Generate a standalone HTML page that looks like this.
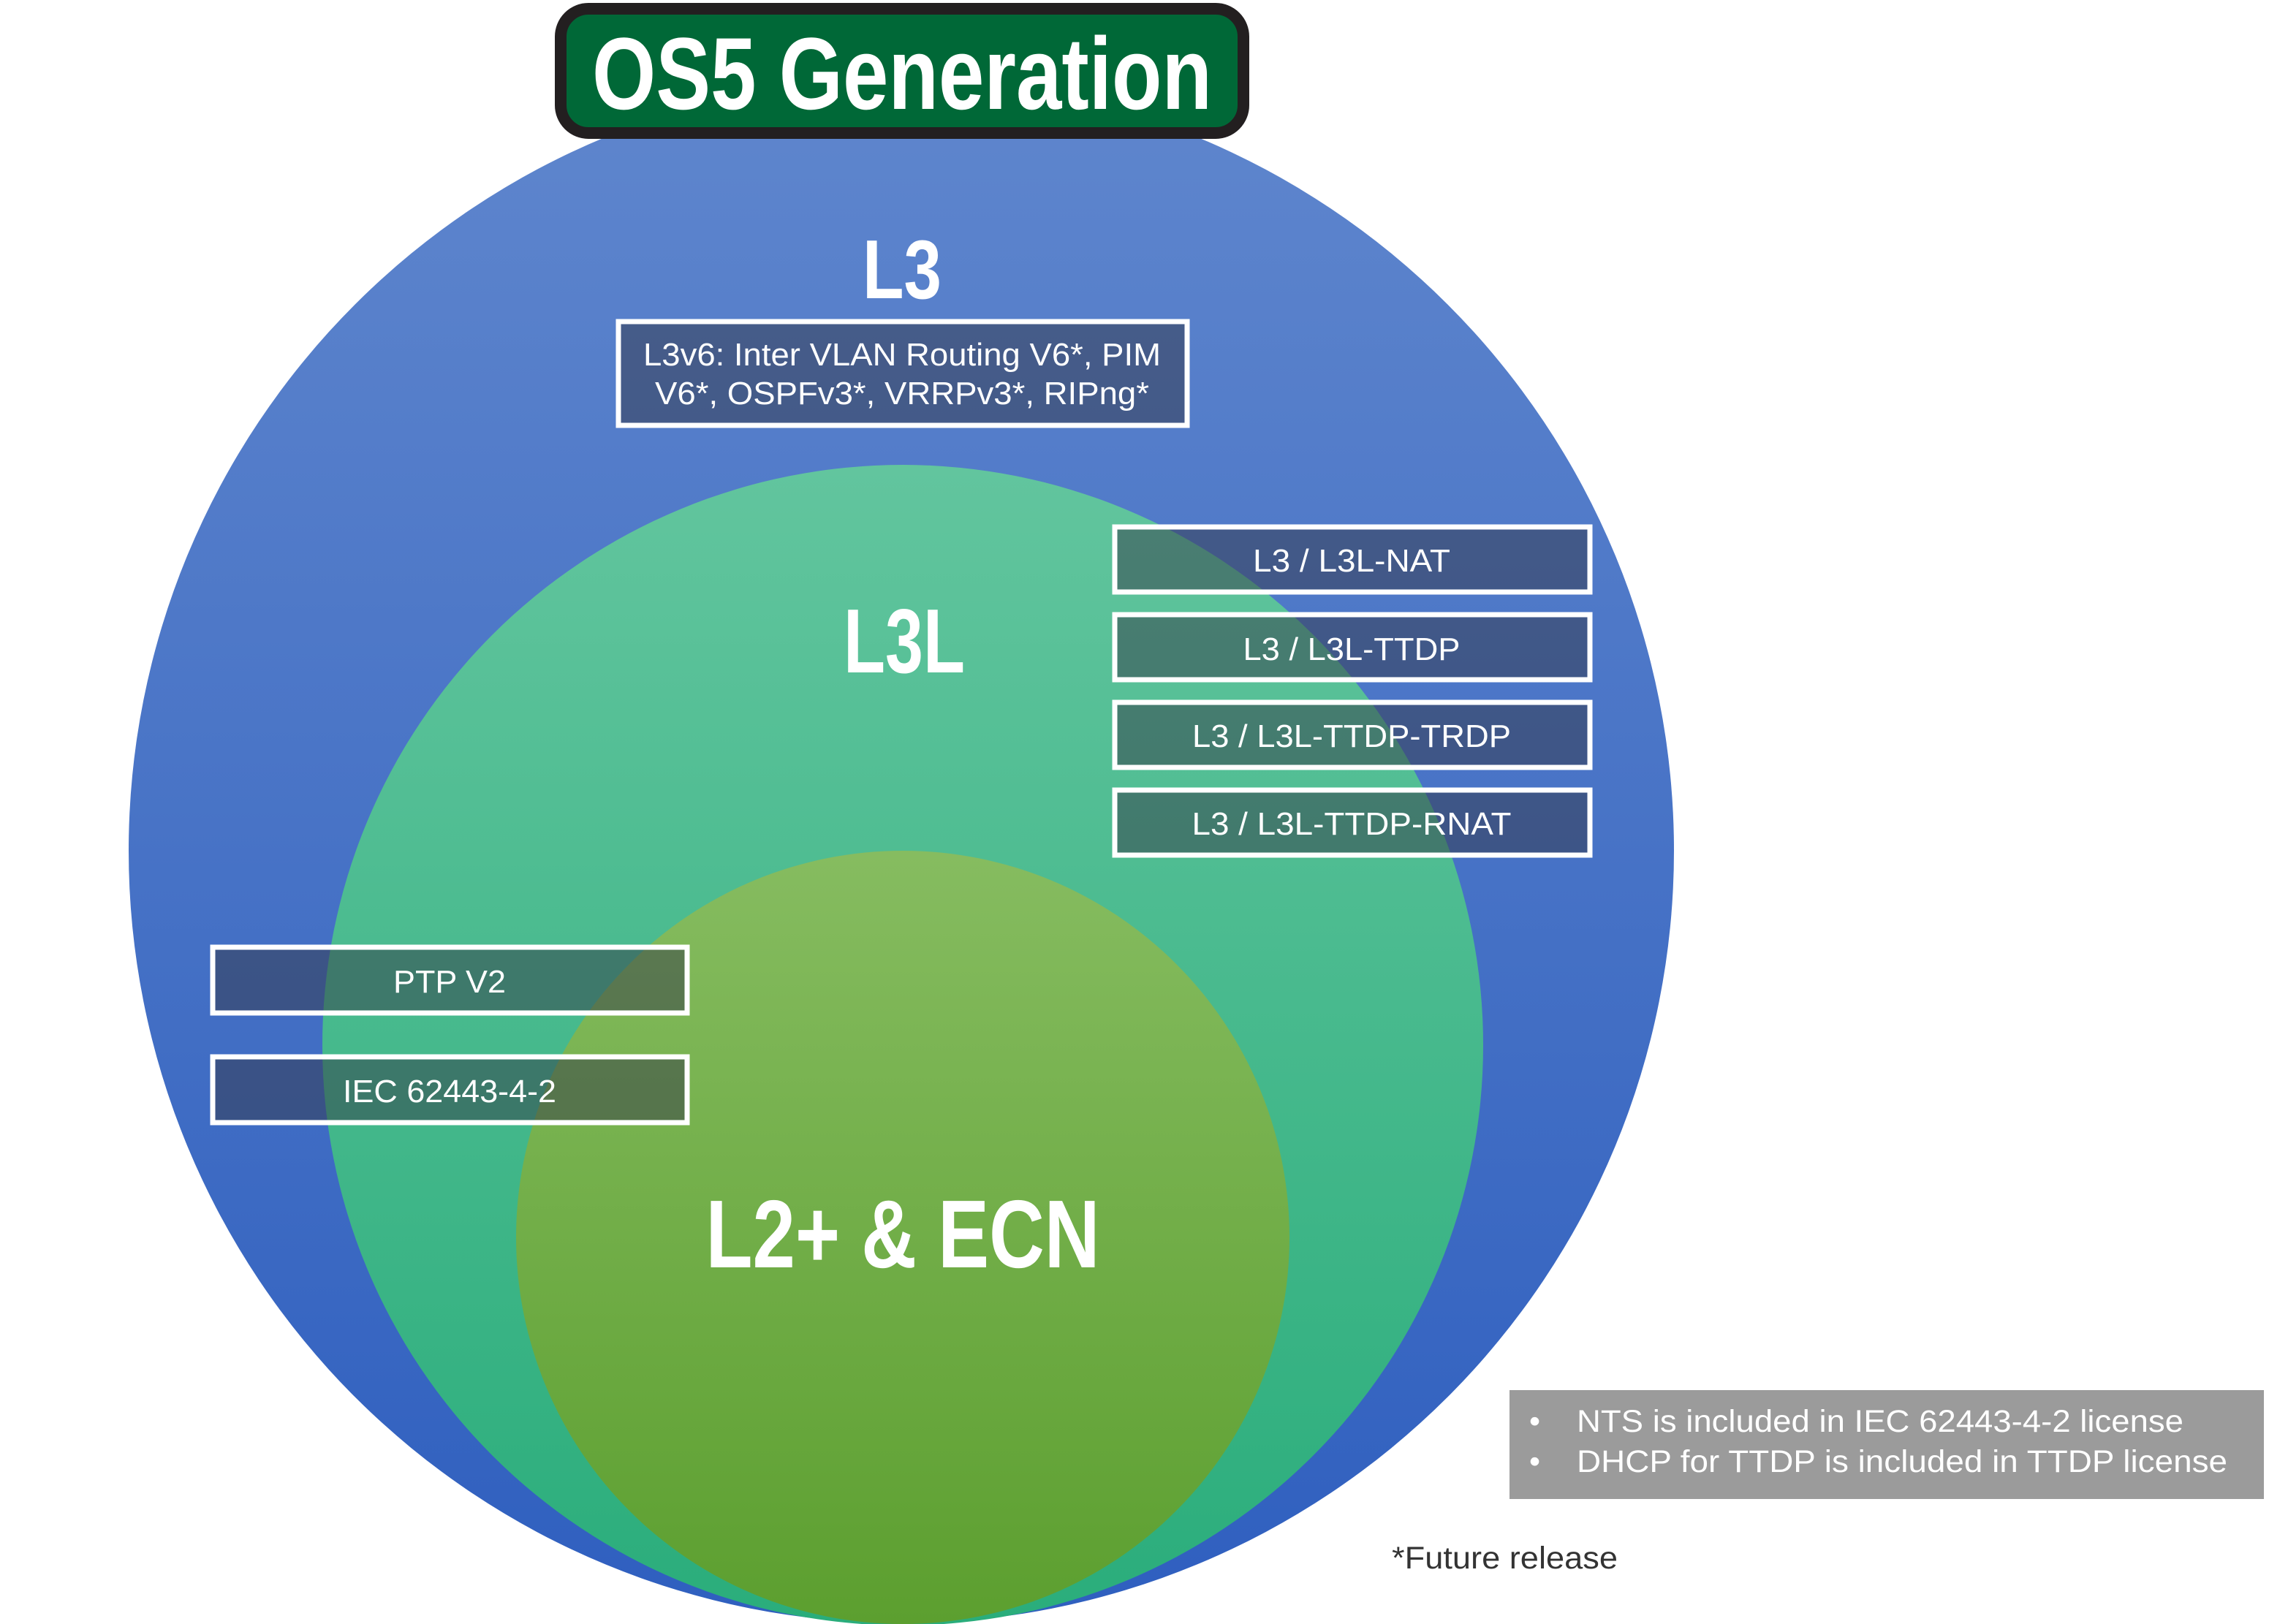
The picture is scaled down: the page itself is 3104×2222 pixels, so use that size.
<!DOCTYPE html>
<html><head><meta charset="utf-8"><style>html,body{margin:0;padding:0;background:#fff}svg{display:block}</style></head>
<body>
<svg width="3104" height="2222" viewBox="0 0 3104 2222" xmlns="http://www.w3.org/2000/svg" font-family="Liberation Sans, sans-serif">
<defs>
<linearGradient id="gb" x1="0" y1="0" x2="0" y2="1"><stop offset="0" stop-color="#5f86cd"/><stop offset="1" stop-color="#2f5fbf"/></linearGradient>
<linearGradient id="gt" x1="0" y1="0" x2="0" y2="1"><stop offset="0" stop-color="#62c59e"/><stop offset="1" stop-color="#2aad7b"/></linearGradient>
<linearGradient id="gg" x1="0" y1="0" x2="0" y2="1"><stop offset="0" stop-color="#86bc60"/><stop offset="1" stop-color="#5c9f2f"/></linearGradient>
</defs>
<circle cx="1233" cy="1164" r="1057" fill="url(#gb)"/>
<circle cx="1235" cy="1430" r="794" fill="url(#gt)"/>
<circle cx="1235" cy="1693" r="529" fill="url(#gg)"/>

<rect x="767" y="12" width="934" height="170" rx="38" fill="#006837" stroke="#231f20" stroke-width="16"/>
<text x="1234" y="149" fill="#fff" font-weight="bold" font-size="140" text-anchor="middle" textLength="848" lengthAdjust="spacingAndGlyphs">OS5 Generation</text>

<text x="1234" y="408" fill="#fff" font-weight="bold" font-size="114" text-anchor="middle" textLength="108" lengthAdjust="spacingAndGlyphs">L3</text>
<text x="1237" y="920" fill="#fff" font-weight="bold" font-size="124" text-anchor="middle" textLength="166" lengthAdjust="spacingAndGlyphs">L3L</text>
<text x="1235" y="1734" fill="#fff" font-weight="bold" font-size="132" text-anchor="middle" textLength="539" lengthAdjust="spacingAndGlyphs">L2+ &amp; ECN</text>

<g fill="rgba(52,55,72,0.5)" stroke="#fff" stroke-width="7">
<rect x="846" y="440" width="778" height="142"/>
<rect x="1525" y="721" width="650" height="89"/>
<rect x="1525" y="841" width="650" height="89"/>
<rect x="1525" y="961" width="650" height="89"/>
<rect x="1525" y="1081" width="650" height="89"/>
<rect x="291" y="1296" width="649" height="90"/>
<rect x="291" y="1446" width="649" height="90"/>
</g>
<g fill="#fff" font-size="44" text-anchor="middle" lengthAdjust="spacingAndGlyphs">
<text x="1234" y="500" textLength="708" lengthAdjust="spacingAndGlyphs">L3v6: Inter VLAN Routing V6*, PIM</text>
<text x="1234" y="553" textLength="676" lengthAdjust="spacingAndGlyphs">V6*, OSPFv3*, VRRPv3*, RIPng*</text>
<text x="1849" y="782" textLength="270" lengthAdjust="spacingAndGlyphs">L3 / L3L-NAT</text>
<text x="1849" y="903" textLength="297" lengthAdjust="spacingAndGlyphs">L3 / L3L-TTDP</text>
<text x="1849" y="1022" textLength="436" lengthAdjust="spacingAndGlyphs">L3 / L3L-TTDP-TRDP</text>
<text x="1849" y="1142" textLength="437" lengthAdjust="spacingAndGlyphs">L3 / L3L-TTDP-RNAT</text>
<text x="615" y="1358" textLength="154" lengthAdjust="spacingAndGlyphs">PTP V2</text>
<text x="615" y="1508" textLength="292" lengthAdjust="spacingAndGlyphs">IEC 62443-4-2</text>
</g>

<rect x="2065" y="1902" width="1032" height="149" fill="#9b9b9b"/>
<g fill="#fff" font-size="43">
<text x="2092" y="1959">•</text>
<text x="2157" y="1959" textLength="830" lengthAdjust="spacingAndGlyphs">NTS is included in IEC 62443-4-2 license</text>
<text x="2092" y="2014">•</text>
<text x="2157" y="2014" textLength="890" lengthAdjust="spacingAndGlyphs">DHCP for TTDP is included in TTDP license</text>
</g>
<text x="1904" y="2146" fill="#333" font-size="43" textLength="309" lengthAdjust="spacingAndGlyphs">*Future release</text>
</svg>
</body></html>
